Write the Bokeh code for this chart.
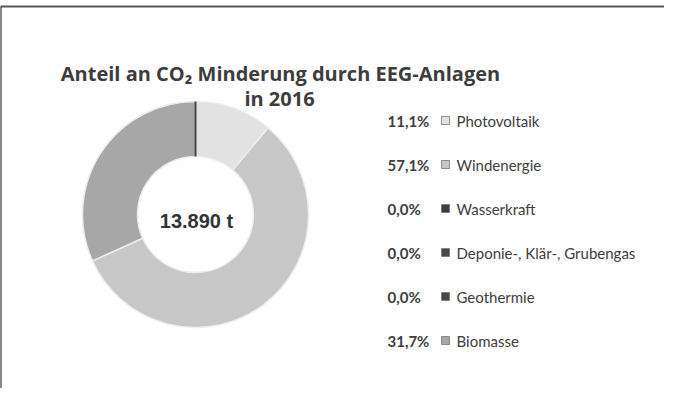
import math
from bokeh.plotting import figure
from bokeh.models import Range1d, Label, ColumnDataSource
from bokeh.core.properties import value
from bokeh.embed import file_html
from bokeh.resources import INLINE

# ---- data ----
categories = ["Photovoltaik", "Windenergie", "Wasserkraft",
              "Deponie-, Klär-, Grubengas", "Geothermie", "Biomasse"]
shares = [11.1, 57.1, 0.0, 0.0, 0.0, 31.7]
share_labels = ["11,1%", "57,1%", "0,0%", "0,0%", "0,0%", "31,7%"]
colors = ["#e2e2e2", "#c7c7c7", "#3e3e3e", "#4a4a4a", "#474747", "#a7a7a7"]
total_label = "13.890 t"
title_line1 = "Anteil an CO\u2082 Minderung durch EEG-Anlagen"
title_line2 = "in 2016"

W, H = 664, 388
p = figure(width=W, height=H, output_backend="svg", toolbar_location=None,
           x_range=Range1d(0, W), y_range=Range1d(0, H), min_border=0)
p.axis.visible = False
p.grid.visible = False
p.outline_line_color = None
p.background_fill_color = "#fefefe"
p.border_fill_color = None

# frame lines of the scanned box
p.segment(x0=[0], y0=[H - 6], x1=[W + 20], y1=[H - 6], line_color="#555555", line_width=2)
p.segment(x0=[0], y0=[-20], x1=[0], y1=[H - 6], line_color="#111111", line_width=2)

# donut
cx, cy = 195, H - 214
r_in, r_out = 58, 113
total = sum(shares)
starts, ends = [], []
cum = 0.0
for s in shares:
    a0 = math.pi / 2 - 2 * math.pi * cum / total
    cum += s
    a1 = math.pi / 2 - 2 * math.pi * cum / total
    starts.append(a0)
    ends.append(a1)
nz = [i for i, s in enumerate(shares) if s > 0]
src_nz = ColumnDataSource(dict(start=[starts[i] for i in nz], end=[ends[i] for i in nz],
                               color=[colors[i] for i in nz]))
p.annular_wedge(x=cx, y=cy, inner_radius=r_in, outer_radius=r_out,
                start_angle="start", end_angle="end", direction="clock",
                fill_color="color", line_color="#ededed", line_width=1.5, source=src_nz)
# dark separator at start of the ring (zero-value slices)
a = starts[0]
p.segment(x0=[cx + r_in * math.cos(a)], y0=[cy + r_in * math.sin(a)],
          x1=[cx + r_out * math.cos(a)], y1=[cy + r_out * math.sin(a)],
          line_color="#444444", line_width=2)

p.add_layout(Label(x=cx + 1, y=H - 220, text=total_label, text_align="center",
                   text_baseline="alphabetic", text_font="Liberation Sans",
                   text_font_style="bold", text_font_size="20px", text_color="#333333"))

# title
p.add_layout(Label(x=280, y=H - 73, text=title_line1, text_align="center",
                   text_baseline="alphabetic", text_font="Open Sans",
                   text_font_style="bold", text_font_size="20px", text_color="#3d3d3d"))
p.add_layout(Label(x=279, y=H - 98, text=title_line2, text_align="center",
                   text_baseline="alphabetic", text_font="Open Sans",
                   text_font_style="bold", text_font_size="20px", text_color="#3d3d3d"))

# legend
row0, step = 120, 44
ys = [H - (row0 + i * step) for i in range(len(categories))]
leg = ColumnDataSource(dict(y=ys, pct=share_labels, cat=categories, color=colors,
                            xp=[387] * len(ys), xm=[445] * len(ys), xl=[456] * len(ys)))
p.text(x="xp", y="y", text="pct", source=leg, text_font=value("Lato"),
       text_font_style="bold", text_font_size="15px", text_color="#404040",
       text_baseline="middle", text_align="left")
p.scatter(x="xm", y="y", marker="square", size=8, fill_color="color",
          line_color="#777777", line_width=0.8, source=leg)
p.text(x="xl", y="y", text="cat", source=leg, text_font=value("Lato"),
       text_font_size="15px", text_color="#404040",
       text_baseline="middle", text_align="left")

open("out.html", "w").write(file_html(p, INLINE))
